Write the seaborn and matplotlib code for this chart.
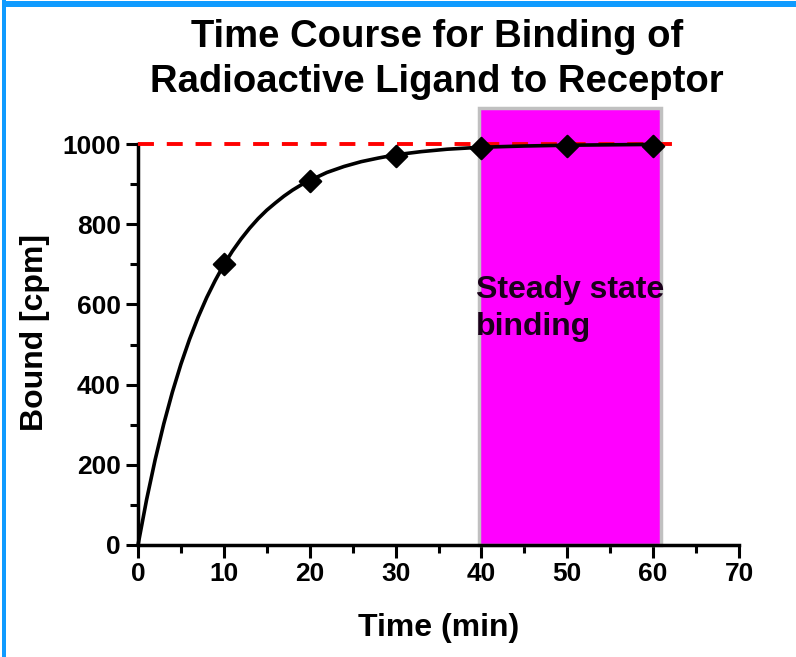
import matplotlib
matplotlib.use("Agg")
import matplotlib.pyplot as plt
from matplotlib.patches import Rectangle
import seaborn as sns
import pandas as pd

# measured points
time_pts = [10, 20, 30, 40, 50, 60]
bound_pts = [700, 907, 970, 990, 994, 996]

# fitted curve
curve_t = [0, 1, 2, 3, 4, 5, 6, 7, 8, 9, 10, 11, 12, 13, 14, 15, 16, 17, 18, 19, 20,
           22, 24, 26, 28, 30, 33, 36, 40, 45, 50, 55, 60]
curve_b = [0, 113, 213, 302, 381, 451, 513, 568, 617, 660, 699, 733, 763, 790, 814, 835,
           853, 870, 885, 898, 909, 929, 944, 956, 965, 973, 981, 987, 992, 995, 997, 998, 999]

bmax = 1000
bmax_line_end = 63.6
steady_start, steady_end, steady_top = 39.7, 60.9, 1089

title = "Time Course for Binding of\nRadioactive Ligand to Receptor"

sns.set_theme(style="ticks")
plt.rcParams["font.family"] = ["Liberation Sans", "DejaVu Sans"]
plt.rcParams["text.color"] = "black"
plt.rcParams["axes.labelcolor"] = "black"

fig = plt.figure(figsize=(7.96, 6.57), dpi=100)
ax = fig.add_axes([138 / 796, 1 - 545 / 657, 601 / 796, 401 / 657])

ax.add_patch(Rectangle((steady_start, 0), steady_end - steady_start, steady_top,
                       facecolor="#ff00ff", edgecolor="#c0c0c0", linewidth=2.5,
                       clip_on=False, zorder=1))

sns.lineplot(x=[0, bmax_line_end], y=[bmax, bmax], ax=ax, color="#ff0000",
             linewidth=2.8, clip_on=False, zorder=3)
ax.lines[-1].set_dashes([4.1, 3.3])

curve = pd.DataFrame({"t": curve_t, "b": curve_b})
sns.lineplot(data=curve, x="t", y="b", ax=ax, color="black", linewidth=2.6,
             clip_on=False, zorder=4)

pts = pd.DataFrame({"t": time_pts, "b": bound_pts})
sns.scatterplot(data=pts, x="t", y="b", ax=ax, marker="D", s=120, color="black",
                edgecolor="black", linewidth=1.5, clip_on=False, zorder=5)

ax.set_xlim(0, 70)
ax.set_ylim(0, 1000)
ax.set_xticks(range(0, 71, 10))
ax.set_xticks(range(5, 70, 10), minor=True)
ax.set_yticks(range(0, 1001, 200))
ax.set_yticks(range(100, 1000, 200), minor=True)
sns.despine(ax=ax)
for s in ["left", "bottom"]:
    ax.spines[s].set_linewidth(2.5)
    ax.spines[s].set_color("black")
ax.tick_params(which="major", length=9, width=2.2, pad=3.5, labelsize=19, colors="black")
ax.tick_params(which="minor", length=5.5, width=2.2, colors="black")
for lab in ax.get_xticklabels() + ax.get_yticklabels():
    lab.set_fontweight("bold")

ax.set_xlabel("Time (min)", fontsize=23, fontweight="bold", va="top")
ax.set_ylabel("Bound [cpm]", fontsize=23, fontweight="bold")
ax.xaxis.set_label_coords(0.5, -0.17)
ax.yaxis.set_label_coords(-0.147, 0.53)

ax.text(39.4, 524, "Steady state\nbinding", fontsize=23, fontweight="bold",
        color="#1a001a", ha="left", va="baseline", linespacing=1.3, zorder=6)

fig.text(437 / 796, 1 - 91.7 / 657, title, ha="center", va="baseline",
         fontsize=27.5, fontweight="bold", linespacing=1.3)

# blue frame on the left and top edges
blue = "#0f9bff"
fig.add_artist(Rectangle((2 / 796, 0), 4 / 796, 1, transform=fig.transFigure,
                         facecolor=blue, edgecolor="none", zorder=10))
fig.add_artist(Rectangle((2 / 796, 1 - 7 / 657), 1, 6 / 657, transform=fig.transFigure,
                         facecolor=blue, edgecolor="none", zorder=10))

fig.savefig("out.png", dpi=100)
